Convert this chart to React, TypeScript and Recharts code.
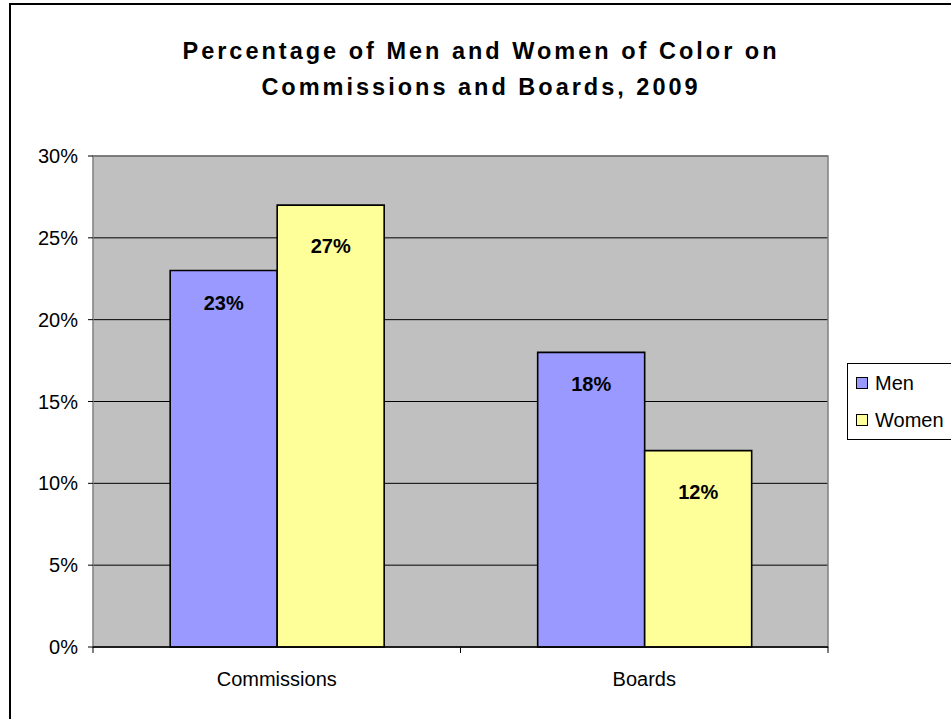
import React from 'react';
import { BarChart, Bar, XAxis, YAxis, CartesianGrid, ReferenceArea, LabelList } from 'recharts';

const categories = ['Commissions', 'Boards'];
const menValues = [0.23, 0.18];
const womenValues = [0.27, 0.12];
const yTicks = [0, 0.05, 0.1, 0.15, 0.2, 0.25, 0.3];
const seriesNames = ['Men', 'Women'];
const seriesColors = ['#9999FF', '#FFFF99'];
const titleLines = ['Percentage of Men and Women of Color on', 'Commissions and Boards, 2009'];

const data = categories.map((c, i) => ({ name: c, Men: menValues[i], Women: womenValues[i] }));

const FONT = 'Arial, "Liberation Sans", sans-serif';
const pct = (v: number) => `${Math.round(v * 100)}%`;

const XTick = (props: any) => {
  const { x, y, payload, index, visibleTicksCount } = props;
  const off = payload && payload.offset != null ? payload.offset : 183.75;
  const left = x - off;
  const right = x + off;
  return (
    <g>
      <line x1={left} y1={y - 8} x2={left} y2={y - 2} stroke="#000" strokeWidth={1} />
      {index === visibleTicksCount - 1 && (
        <line x1={right} y1={y - 8} x2={right} y2={y - 2} stroke="#000" strokeWidth={1} />
      )}
      <text x={x} y={y + 31} textAnchor="middle" fontFamily={FONT} fontSize={20} fill="#000">
        {payload.value}
      </text>
    </g>
  );
};

const makeLabel = (dy: number) => (props: any) => {
  const { x, y, width, value } = props;
  return (
    <text x={x + width / 2} y={y + dy} textAnchor="middle" fontFamily={FONT} fontWeight="bold" fontSize={20} fill="#000">
      {pct(value)}
    </text>
  );
};

export default function App() {
  return (
    <div style={{ position: 'absolute', left: 0, top: 0, width: 951, height: 719, overflow: 'hidden', background: '#fff' }}>
      <div style={{ position: 'absolute', left: 9, top: 3, width: 1000, height: 800, border: '2px solid #000', boxSizing: 'border-box' }} />
      <div style={{ position: 'absolute', left: 2, top: 33, width: 958, textAlign: 'center', fontFamily: FONT, fontWeight: 'bold', fontSize: 23.5, letterSpacing: 3, lineHeight: '36px', color: '#000' }}>
        {titleLines.map((t) => (<div key={t}>{t}</div>))}
      </div>
      <div style={{ position: 'absolute', left: 0, top: 0 }}>
        <BarChart width={951} height={719} data={data} margin={{ top: 156, right: 123, bottom: 42, left: 0 }} barCategoryGap="21%" barGap={0}>
          <CartesianGrid vertical={false} stroke="#000" fill="#C0C0C0" fillOpacity={1} />
          <ReferenceArea y1={0} y2={0.3} fill="none" stroke="#808080" strokeWidth={1.5} ifOverflow="visible" />
          <XAxis dataKey="name" axisLine={{ stroke: '#000', strokeWidth: 1.5 }} tickLine={false} tick={<XTick />} interval={0} />
          <YAxis domain={[0, 0.3]} ticks={yTicks} tickFormatter={pct} width={93} axisLine={false}
            tickLine={{ stroke: '#000' }} tickSize={5}
            tick={{ fontFamily: FONT, fontSize: 20, fill: '#000' }} tickMargin={10} interval={0} />
          {seriesNames.map((s, i) => (
            <Bar key={s} dataKey={s} fill={seriesColors[i]} stroke="#000" strokeWidth={1.6} isAnimationActive={false}>
              <LabelList dataKey={s} content={makeLabel(i === 0 ? 39 : 48)} />
            </Bar>
          ))}
        </BarChart>
      </div>
      <div style={{ position: 'absolute', left: 847, top: 363, width: 120, height: 77, border: '1px solid #000', boxSizing: 'border-box', background: '#fff', fontFamily: FONT, fontSize: 20 }}>
        {seriesNames.map((s, i) => (
          <div key={s} style={{ position: 'absolute', left: 8, top: 7 + i * 37, display: 'flex', alignItems: 'center', height: 24 }}>
            <span style={{ display: 'inline-block', width: 10, height: 10, background: seriesColors[i], border: '1px solid #000', marginRight: 7 }} />
            <span>{s}</span>
          </div>
        ))}
      </div>
    </div>
  );
}
